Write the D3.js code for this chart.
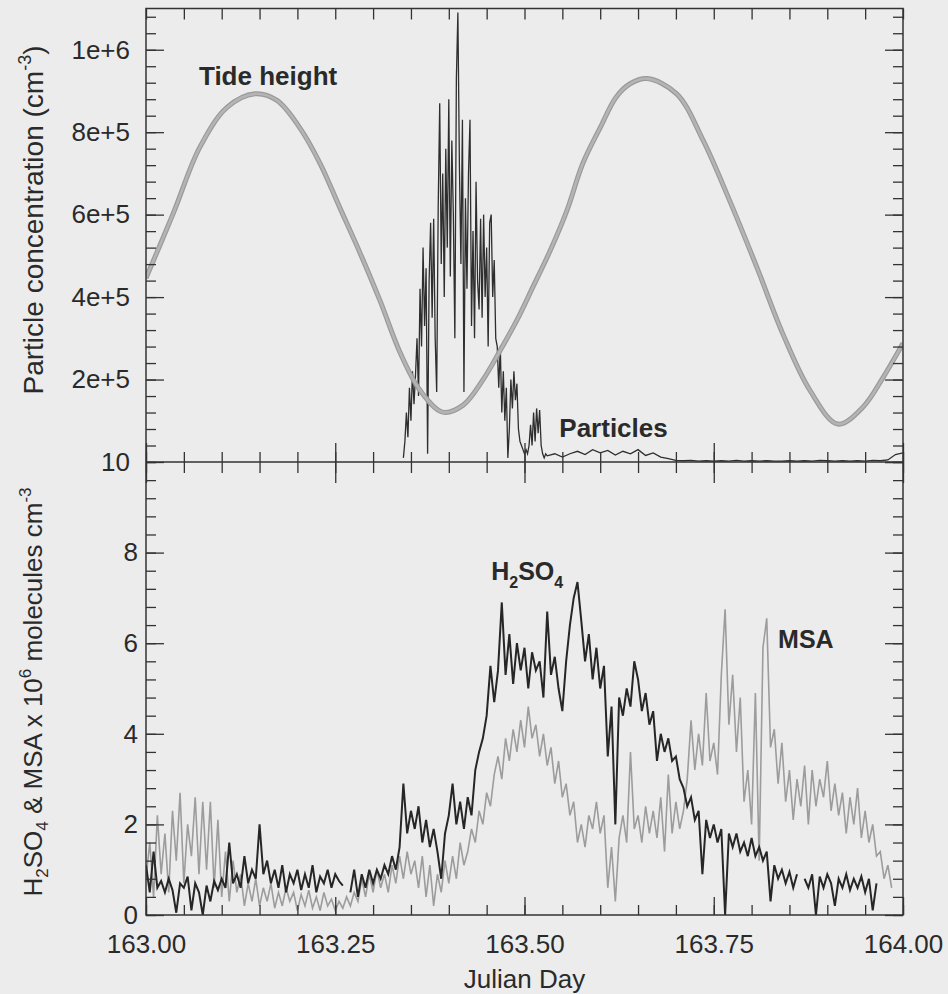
<!DOCTYPE html>
<meta charset="utf-8">
<style>
body { margin: 0; background: #ececec; }
svg text { font-family: "Liberation Sans", Arial, sans-serif; fill: #2a2a2a; }
.axis path { display: none; }
.axis line { stroke: #333; stroke-width: 1.3px; }
.axis text { font-size: 26px; fill: #2a2a2a; font-family: "Liberation Sans", Arial, sans-serif; }
.lbl { font-weight: bold; font-size: 26px; }
</style>
<body>
<script src="https://d3js.org/d3.v7.min.js"></script>
<script>
// ---- data ----
var dayTicks = [163.00, 163.25, 163.50, 163.75, 164.00];
var particleTicks = [0, 2e5, 4e5, 6e5, 8e5, 1e6];   // bottom one printed as "10"
var concTicks = [0, 2, 4, 6, 8];

// tide height, drawn against the particle axis (no own scale in the figure)
var tideDay = [163.000, 163.036, 163.071, 163.107, 163.144, 163.173, 163.203, 163.230, 163.256,
  163.283, 163.309, 163.336, 163.362, 163.392, 163.419, 163.445, 163.468, 163.490, 163.511,
  163.534, 163.556, 163.577, 163.600, 163.621, 163.640, 163.662, 163.701, 163.736, 163.771,
  163.807, 163.841, 163.877, 163.914, 163.947, 163.974, 164.000];
var tideHeight = [4.46e5, 6.03e5, 7.63e5, 8.60e5, 8.93e5, 8.77e5, 8.11e5, 7.24e5, 6.17e5,
  5.06e5, 3.92e5, 2.64e5, 1.74e5, 1.21e5, 1.38e5, 1.99e5, 2.71e5, 3.44e5, 4.24e5,
  5.13e5, 6.10e5, 7.24e5, 8.11e5, 8.85e5, 9.18e5, 9.30e5, 8.93e5, 7.80e5, 6.34e5,
  4.72e5, 3.12e5, 1.74e5, 0.92e5, 1.33e5, 2.06e5, 2.88e5];

// particle concentration (units of 1e6 cm-3); burst every 0.002 d from 163.340
var partBurstStart = 163.340, partBurstStep = 0.002;
var particleBurst = [
  0.01, 0.05, 0.12, 0.06, 0.18, 0.10, 0.22, 0.14, 0.21, 0.30,
  0.16, 0.42, 0.28, 0.52, 0.33, 0.47, 0.02, 0.44, 0.58, 0.35,
  0.59, 0.30, 0.17, 0.62, 0.87, 0.48, 0.70, 0.40, 0.76, 0.52,
  0.88, 0.45, 0.78, 0.60, 0.30, 0.93, 1.09, 0.72, 0.48, 0.83,
  0.17, 0.64, 0.42, 0.70, 0.83, 0.33, 0.56, 0.30, 0.68, 0.44,
  0.37, 0.59, 0.35, 0.60, 0.40, 0.52, 0.28, 0.58, 0.60, 0.40,
  0.49, 0.30, 0.28, 0.18, 0.28, 0.12, 0.22, 0.10, 0.18, 0.01,
  0.08, 0.20, 0.13, 0.22, 0.15, 0.19, 0.08, 0.05, 0.04, 0.03,
  0.02, 0.03, 0.02, 0.04, 0.09, 0.04, 0.12, 0.05, 0.13, 0.07,
  0.126, 0.04, 0.02, 0.01, 0.02];
// then every 0.01 d from 163.53
var partTailStart = 163.53, partTailStep = 0.01;
var particleTail = [
  0.015, 0.020, 0.012, 0.020, 0.026, 0.018, 0.030,
  0.022, 0.028, 0.017, 0.026, 0.020, 0.030, 0.016, 0.022, 0.012, 0.008,
  0.004, 0.003, 0.004, 0.002, 0.003, 0.002, 0.003, 0.002, 0.004, 0.002,
  0.003, 0.002, 0.003, 0.002, 0.002, 0.003, 0.002, 0.003, 0.002, 0.004,
  0.003, 0.002, 0.003, 0.002, 0.003, 0.002, 0.004, 0.003, 0.005, 0.018,
  0.022];

// H2SO4 and MSA (x 1e6 molecules cm-3), every 0.005 d from 163.000; null = no data
var concStart = 163.0, concStep = 0.005;
var h2so4 = [
  1.1, 0.5, 1.4, 0.6, 0.75, 0.5, 0.8, 0.55, 0.05, 0.7,
  0.6, 0.85, 0.1, 0.7, 0.5, 0.0, 0.65, 0.3, 0.75, 0.55,
  0.8, 0.6, 1.6, 0.7, 0.9, 0.6, 1.3, 0.7, 1.0, 0.8,
  2.0, 0.9, 1.2, 0.7, 1.0, 0.6, 1.1, 0.5, 0.9, 0.7,
  1.0, 0.55, 0.9, 0.6, 1.1, 0.5, 0.85, 0.7, 1.0, 0.6,
  0.9, 0.75, 0.65, null, 0.5, 1.0, 0.4, 0.9, 0.6, 1.0,
  0.7, 1.0, 0.8, 1.1, 0.9, 1.3, 1.0, 1.5, 2.9, 1.8,
  2.3, 1.9, 2.4, 1.6, 2.1, 1.5, 1.9, 1.4, 0.8, 1.8,
  2.2, 2.9, 2.0, 2.5, 1.9, 2.6, 2.2, 3.2, 3.6, 3.9,
  4.4, 5.5, 4.7, 5.4, 6.9, 5.3, 6.2, 5.1, 6.0, 5.4,
  5.9, 5.0, 5.8, 5.4, 5.6, 4.8, 6.7, 5.3, 5.7, 5.0,
  4.5, 5.6, 6.4, 7.0, 7.35, 6.5, 5.6, 6.2, 5.2, 5.9,
  5.0, 5.5, 3.5, 4.6, 2.0, 4.8, 4.4, 5.0, 4.6, 5.6,
  5.2, 4.5, 4.9, 4.2, 4.5, 3.4, 4.0, 3.6, 3.9, 3.4,
  3.5, 3.0, 2.8, 2.4, 2.6, 2.1, 2.3, 0.9, 2.1, 1.7,
  2.0, 1.6, 1.9, 0.0, 1.8, 1.5, 1.8, 1.4, 1.6, 1.3,
  1.7, 1.3, 1.5, 1.2, 1.4, 0.3, 1.1, 0.8, 1.0, 0.7,
  0.95, 0.6, 0.9, null, 0.8, 0.6, 0.9, 0.0, 0.85, 0.6,
  0.9, 0.7, 0.2, 0.8, 0.6, 0.9, 0.55, 0.8, 0.6, 0.85,
  0.5, 0.8, 0.1, 0.7, null, null, null, null, null, null,
  null];
var msa = [
  0.8, 1.6, 0.4, 2.2, 0.9, 1.8, 0.5, 2.3, 1.2, 2.7,
  0.7, 2.0, 1.3, 2.6, 0.9, 2.5, 1.0, 2.5, 0.6, 2.1,
  0.4, 1.4, 0.3, 1.2, 0.5, 0.9, 0.2, 0.7, 0.3, 0.8,
  0.2, 0.6, 0.3, 0.7, 0.15, 0.5, 0.2, 0.6, 0.3, 0.5,
  0.1, 0.45, 0.2, 0.55, 0.15, 0.4, 0.1, 0.5, 0.2, 0.35,
  0.1, 0.3, 0.15, 0.4, 0.2, 0.5, 0.3, 0.8, 0.4, 0.9,
  0.5, 1.0, 0.6, 0.9, 0.5, 1.1, 0.7, 1.3, 0.8, 1.4,
  0.9, 1.2, 0.6, 1.3, 0.4, 1.1, 0.2, 0.9, 0.5, 1.2,
  0.7, 1.3, 0.8, 1.6, 1.1, 1.4, 1.9, 1.6, 2.3, 2.0,
  2.7, 2.4, 3.1, 3.5, 3.0, 3.9, 3.4, 4.1, 3.6, 4.3,
  3.7, 4.6, 3.9, 4.2, 3.5, 4.0, 3.3, 3.7, 2.9, 3.4,
  2.6, 2.9, 2.2, 2.5, 1.6, 2.0, 1.5, 2.2, 1.9, 2.5,
  1.8, 2.2, 0.6, 1.5, 0.3, 1.7, 2.2, 1.6, 3.6, 1.9,
  2.2, 1.6, 2.4, 1.8, 2.3, 1.7, 2.6, 1.4, 3.1, 1.8,
  2.5, 1.9, 2.3, 3.0, 4.3, 3.2, 4.0, 3.3, 4.9, 3.4,
  3.8, 3.1, 5.3, 6.75, 4.2, 5.3, 3.6, 4.8, 2.5, 3.2,
  2.0, 4.9, 1.2, 5.9, 6.55, 3.7, 4.1, 2.9, 3.8, 2.5,
  3.2, 2.1, 3.0, 2.4, 3.3, 2.0, 3.2, 2.4, 3.0, 2.6,
  3.4, 2.3, 2.9, 2.2, 2.7, 1.8, 2.6, 2.0, 2.8, 1.7,
  2.3, 1.6, 2.0, 1.3, 1.4, 0.8, 1.1, 0.6, null, null,
  null];

// ---- layout ----
var width = 948, height = 994;
var pLeft = 146, pRight = 903, pTop = 8.5, pMid = 462, pBottom = 915;

var x = d3.scaleLinear().domain([163, 164]).range([pLeft, pRight]);
var yPart = d3.scaleLinear().domain([0, 1.1e6]).range([pMid, pTop]);
var yConc = d3.scaleLinear().domain([0, 10]).range([pBottom, pMid]);

var svg = d3.select("body").append("svg")
    .attr("width", width)
    .attr("height", height);

svg.append("rect").attr("width", width).attr("height", height).attr("fill", "#ececec");

var defs = svg.append("defs");
defs.append("clipPath").attr("id", "clipTop")
  .append("rect").attr("x", pLeft).attr("y", pTop).attr("width", pRight - pLeft).attr("height", pMid - pTop);
defs.append("clipPath").attr("id", "clipBot")
  .append("rect").attr("x", pLeft).attr("y", pMid).attr("width", pRight - pLeft).attr("height", pBottom - pMid);

// build point lists
var tide = tideDay.map(function(d, i) { return {day: d, v: tideHeight[i]}; });
var particles = particleBurst.map(function(v, i) { return {day: partBurstStart + i * partBurstStep, v: v * 1e6}; })
  .concat(particleTail.map(function(v, i) { return {day: partTailStart + i * partTailStep, v: v * 1e6}; }));
var h2so4Pts = h2so4.map(function(v, i) { return {day: concStart + i * concStep, v: v}; });
var msaPts = msa.map(function(v, i) { return {day: concStart + i * concStep, v: v}; });

var partLine = d3.line()
    .x(function(d) { return x(d.day); })
    .y(function(d) { return yPart(d.v); });
var tideLine = d3.line()
    .curve(d3.curveCatmullRom)
    .x(function(d) { return x(d.day); })
    .y(function(d) { return yPart(d.v); });
var concLine = d3.line()
    .defined(function(d) { return d.v != null; })
    .x(function(d) { return x(d.day); })
    .y(function(d) { return yConc(d.v); });

// upper panel: particles then tide
var gTop = svg.append("g").attr("clip-path", "url(#clipTop)");
gTop.append("path").datum(particles)
    .attr("d", partLine)
    .attr("fill", "none").attr("stroke", "#2e2e2e").attr("stroke-width", 1.3);
gTop.append("path").datum(tide)
    .attr("d", tideLine)
    .attr("fill", "none").attr("stroke", "#9a9a9a").attr("stroke-width", 5);
gTop.append("path").datum(tide)
    .attr("d", tideLine)
    .attr("fill", "none").attr("stroke", "#b4b4b4").attr("stroke-width", 2.6);

// lower panel: MSA (grey) under H2SO4 (black)
var gBot = svg.append("g").attr("clip-path", "url(#clipBot)");
gBot.append("path").datum(msaPts)
    .attr("d", concLine)
    .attr("fill", "none").attr("stroke", "#9c9c9c").attr("stroke-width", 1.6);
gBot.append("path").datum(h2so4Pts)
    .attr("d", concLine)
    .attr("fill", "none").attr("stroke", "#262626").attr("stroke-width", 2);

// ---- axes (ticks all point inwards) ----
var dayMinor = d3.range(0, 21).map(function(i) { return 163 + i * 0.05; });
var fmtE = d3.format(".0e");

function addAxis(axis, tx, ty) {
  return svg.append("g").attr("class", "axis")
    .attr("transform", "translate(" + tx + "," + ty + ")")
    .call(axis);
}

// x: top edge, middle divider (both sides), bottom edge
addAxis(d3.axisTop(x).tickValues(dayMinor).tickSize(-11).tickFormat(""), 0, pTop);
addAxis(d3.axisBottom(x).tickValues(dayMinor).tickSize(-10).tickFormat(""), 0, pMid);
addAxis(d3.axisBottom(x).tickValues(dayTicks).tickSize(-19).tickFormat(""), 0, pMid);
addAxis(d3.axisTop(x).tickValues(dayMinor).tickSize(-11).tickFormat(""), 0, pMid);
addAxis(d3.axisTop(x).tickValues(dayTicks).tickSize(-21).tickFormat(""), 0, pMid);
addAxis(d3.axisBottom(x).tickValues(dayMinor).tickSize(-10).tickFormat(""), 0, pBottom);
addAxis(d3.axisBottom(x).tickValues(dayTicks).tickSize(-18).tickPadding(20)
    .tickFormat(function(d) { return d.toFixed(2); }), 0, pBottom);

// y upper (particles)
var partMinor = d3.range(0, 28).map(function(i) { return i * 4e4; });
addAxis(d3.axisLeft(yPart).tickValues(partMinor).tickSize(-10).tickFormat(""), pLeft, 0);
addAxis(d3.axisLeft(yPart).tickValues(particleTicks).tickSize(-18).tickPadding(16)
    .tickFormat(function(d) { return d === 0 ? "10" : fmtE(d); }), pLeft, 0);
addAxis(d3.axisRight(yPart).tickValues(partMinor).tickSize(-10).tickFormat(""), pRight, 0);
addAxis(d3.axisRight(yPart).tickValues(particleTicks).tickSize(-18).tickFormat(""), pRight, 0);

// y lower (concentration)
var concMinor = d3.range(0, 26).map(function(i) { return i * 0.4; });
addAxis(d3.axisLeft(yConc).tickValues(concMinor).tickSize(-10).tickFormat(""), pLeft, 0);
addAxis(d3.axisLeft(yConc).tickValues(concTicks).tickSize(-18).tickPadding(8), pLeft, 0);
addAxis(d3.axisRight(yConc).tickValues(concMinor).tickSize(-10).tickFormat(""), pRight, 0);
addAxis(d3.axisRight(yConc).tickValues(concTicks.concat([10])).tickSize(-18).tickFormat(""), pRight, 0);

// frame and divider
svg.append("rect")
    .attr("x", pLeft).attr("y", pTop).attr("width", pRight - pLeft).attr("height", pBottom - pTop)
    .attr("fill", "none").attr("stroke", "#333").attr("stroke-width", 1.5);
svg.append("line")
    .attr("x1", pLeft).attr("x2", pRight).attr("y1", pMid).attr("y2", pMid)
    .attr("stroke", "#333").attr("stroke-width", 1.5);

// ---- axis titles ----
var t1 = svg.append("text")
    .attr("transform", "translate(43," + 220 + ") rotate(-90)")
    .attr("text-anchor", "middle")
    .style("font-size", "28px");
t1.append("tspan").text("Particle concentration (cm");
t1.append("tspan").attr("dy", -12).style("font-size", "18px").text("-3");
t1.append("tspan").attr("dy", 12).text(")");

var t2 = svg.append("text")
    .attr("transform", "translate(42," + 692 + ") rotate(-90)")
    .attr("text-anchor", "middle")
    .style("font-size", "26px");
t2.append("tspan").text("H");
t2.append("tspan").attr("dy", 6).style("font-size", "17px").text("2");
t2.append("tspan").attr("dy", -6).text("SO");
t2.append("tspan").attr("dy", 6).style("font-size", "17px").text("4");
t2.append("tspan").attr("dy", -6).text(" & MSA x 10");
t2.append("tspan").attr("dy", -11).style("font-size", "17px").text("6");
t2.append("tspan").attr("dy", 11).text(" molecules cm");
t2.append("tspan").attr("dy", -11).style("font-size", "17px").text("-3");

svg.append("text")
    .attr("x", x(163.5)).attr("y", 988)
    .attr("text-anchor", "middle")
    .style("font-size", "26px")
    .text("Julian Day");

// ---- series labels ----
svg.append("text").attr("class", "lbl")
    .attr("x", x(163.070)).attr("y", 85).text("Tide height");
svg.append("text").attr("class", "lbl")
    .attr("x", x(163.546)).attr("y", 437).text("Particles");
var lh = svg.append("text").attr("class", "lbl")
    .attr("x", x(163.456)).attr("y", 580).style("font-size", "25px");
lh.append("tspan").text("H");
lh.append("tspan").attr("dy", 8).style("font-size", "16px").text("2");
lh.append("tspan").attr("dy", -8).text("SO");
lh.append("tspan").attr("dy", 8).style("font-size", "16px").text("4");
svg.append("text").attr("class", "lbl")
    .attr("x", x(163.835)).attr("y", 648).style("font-size", "25px").text("MSA");
</script>
</body>
